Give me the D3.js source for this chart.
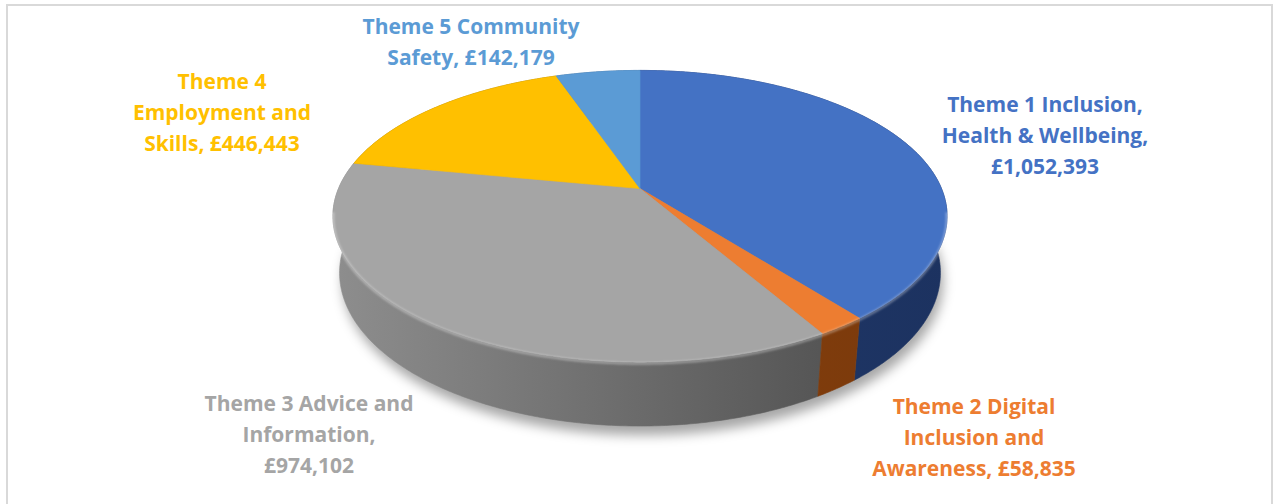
<!DOCTYPE html>
<html>
<head>
<meta charset="utf-8">
<script src="https://cdn.jsdelivr.net/npm/d3@7"></script>
<style>
  body { margin: 0; background: #fff; }
  svg { display: block; }
</style>
</head>
<body>
<script>
const values = [1052393, 58835, 974102, 446443, 142179];
const nameLines = [
  ['Theme 1 Inclusion,', 'Health & Wellbeing,'],
  ['Theme 2 Digital', 'Inclusion and', 'Awareness,'],
  ['Theme 3 Advice and', 'Information,'],
  ['Theme 4', 'Employment and', 'Skills,'],
  ['Theme 5 Community', 'Safety,']
];
const valueOnOwnLine = [true, false, true, false, false];
const topColors = ['#4472c4', '#ed7d31', '#a5a5a5', '#ffc000', '#5b9bd5'];
const wallLight = ['#243f73', '#8e4510', '#8e8e8e', '#a07800', '#3a6a98'];
const wallDark = ['#1c3260', '#7a390b', '#474747', '#806000', '#2e5680'];
const labelColors = ['#4472c4', '#ed7d31', '#a5a5a5', '#ffc000', '#5b9bd5'];
const labelPos = [[1045, 112], [974, 414], [309, 411], [222, 89], [471, 34]];

const width = 1274, height = 504;
const svg = d3.select('body').append('svg')
  .attr('width', width)
  .attr('height', height);

// chart frame
svg.append('rect')
  .attr('x', 7).attr('y', 5)
  .attr('width', 1265).attr('height', 520)
  .attr('fill', '#fff')
  .attr('stroke', '#d9d9d9')
  .attr('stroke-width', 2);

// simple perspective camera for the 3D pie
const cam = { cx: 640, cy: 188.6, phi: 27.8 * Math.PI / 180, D: 4.66, F: 1405, T: 0.213 };
const cosP = Math.cos(cam.phi), sinP = Math.sin(cam.phi);

function project(theta, level) {
  const X = Math.sin(theta), Z = -Math.cos(theta), Y = -level * cam.T;
  const yc = Y * cosP - Z * sinP;
  const zc = Y * sinP + Z * cosP;
  const d = cam.D - zc;
  return [cam.cx + cam.F * X / d, cam.cy - cam.F * yc / d];
}
function center(level) {
  const Y = -level * cam.T;
  const d = cam.D - Y * sinP;
  return [cam.cx, cam.cy - cam.F * (Y * cosP) / d];
}
function arcPoints(a0, a1, level) {
  const n = Math.max(2, Math.ceil((a1 - a0) / 0.01));
  return d3.range(n + 1).map(i => project(a0 + (a1 - a0) * i / n, level));
}

const line = d3.line();
const pie = d3.pie().sort(null).startAngle(0).endAngle(2 * Math.PI);
const arcs = pie(values);

const defs = svg.append('defs');
defs.append('filter').attr('id', 'shadow')
  .attr('x', '-20%').attr('y', '-20%').attr('width', '140%').attr('height', '140%')
  .append('feGaussianBlur').attr('stdDeviation', 6);
defs.append('filter').attr('id', 'soft')
  .append('feGaussianBlur').attr('stdDeviation', 1.2);

arcs.forEach((a, i) => {
  const g = defs.append('linearGradient')
    .attr('id', 'wall' + i)
    .attr('gradientUnits', 'userSpaceOnUse')
    .attr('x1', 330).attr('x2', 950).attr('y1', 0).attr('y2', 0);
  g.append('stop').attr('offset', 0).attr('stop-color', wallLight[i]);
  g.append('stop').attr('offset', 1).attr('stop-color', wallDark[i]);
});

const pieG = svg.append('g');

// drop shadow under the pie
pieG.append('path')
  .attr('d', line(arcPoints(0, 2 * Math.PI, 1.05)) + 'Z')
  .attr('transform', 'translate(3,6)')
  .attr('fill', 'rgba(0,0,0,0.35)')
  .attr('filter', 'url(#shadow)');

// outer walls, back to front
const order = d3.range(arcs.length).sort((i, j) =>
  Math.cos((arcs[j].startAngle + arcs[j].endAngle) / 2) - Math.cos((arcs[i].startAngle + arcs[i].endAngle) / 2));
order.forEach(i => {
  const a = arcs[i];
  const pts = arcPoints(a.startAngle, a.endAngle, 0)
    .concat(arcPoints(a.startAngle, a.endAngle, 1).reverse());
  pieG.append('path')
    .attr('d', line(pts) + 'Z')
    .attr('fill', 'url(#wall' + i + ')')
    .attr('stroke', 'url(#wall' + i + ')')
    .attr('stroke-width', 0.6);
});

// top faces
arcs.forEach((a, i) => {
  const pts = [center(0)].concat(arcPoints(a.startAngle, a.endAngle, 0));
  pieG.append('path')
    .attr('d', line(pts) + 'Z')
    .attr('fill', topColors[i])
    .attr('stroke', topColors[i])
    .attr('stroke-width', 0.6);
});

// bevel highlight along the front rim
pieG.append('path')
  .attr('d', line(arcPoints(Math.PI * 0.55, Math.PI * 1.45, 0.02)))
  .attr('fill', 'none')
  .attr('stroke', 'rgba(255,255,255,0.35)')
  .attr('stroke-width', 2.5)
  .attr('filter', 'url(#soft)');

// data labels
const fmt = d3.format(',');
arcs.forEach((a, i) => {
  const lines = nameLines[i].slice();
  const v = '£' + fmt(values[i]);
  if (valueOnOwnLine[i]) lines.push(v);
  else lines[lines.length - 1] += ' ' + v;
  const t = svg.append('text')
    .attr('x', labelPos[i][0])
    .attr('y', labelPos[i][1])
    .attr('text-anchor', 'middle')
    .attr('fill', labelColors[i])
    .style('font-family', '"Open Sans", Lato, sans-serif')
    .style('font-weight', 'bold')
    .style('font-size', '21px');
  lines.forEach((l, k) => {
    t.append('tspan')
      .attr('x', labelPos[i][0])
      .attr('dy', k === 0 ? 0 : 31)
      .text(l);
  });
});
</script>
</body>
</html>
